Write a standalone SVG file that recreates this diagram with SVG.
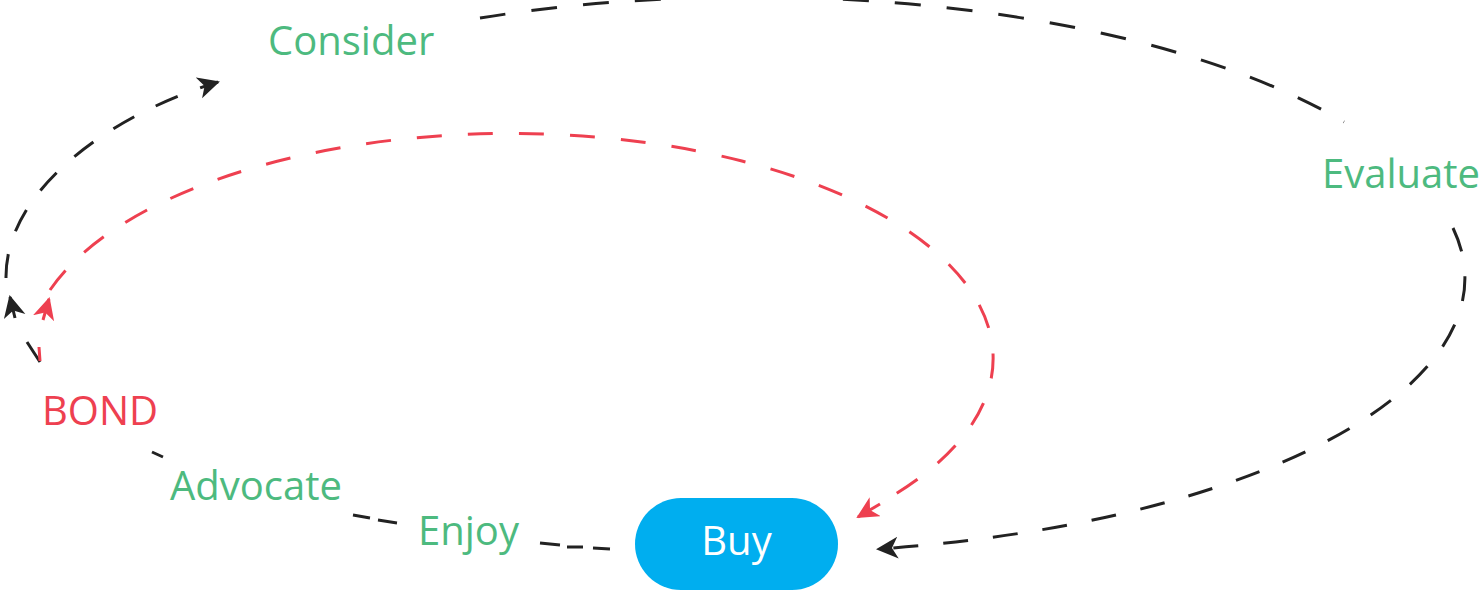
<svg xmlns="http://www.w3.org/2000/svg" width="1480" height="591" viewBox="0 0 1480 591">
  <style>
    .lbl { font-family: "Open Sans", "Noto Sans", "Liberation Sans", sans-serif; font-size: 40px; fill: #4DBA7F; }
    .bond { fill: #EE4050; }
    .buytxt { font-family: "Open Sans", "Noto Sans", "Liberation Sans", sans-serif; font-size: 40px; fill: #ffffff; }
    .blk { fill: none; stroke: #222222; stroke-width: 3; }
    .red { fill: none; stroke: #EE4050; stroke-width: 3; }
  </style>
  <defs>
    <marker id="arrBlack" markerUnits="userSpaceOnUse" markerWidth="24" markerHeight="24" refX="20" refY="11" orient="auto" viewBox="0 0 24 24">
      <path d="M0,0 L22,11 L0,22 L6,11 z" fill="#222222"/>
    </marker>
    <marker id="arrRed" markerUnits="userSpaceOnUse" markerWidth="24" markerHeight="24" refX="20" refY="11" orient="auto" viewBox="0 0 24 24">
      <path d="M0,0 L22,11 L0,22 L6,11 z" fill="#EE4050"/>
    </marker>
  </defs>
  <rect width="1480" height="591" fill="#ffffff"/>

  <g id="connectors">
    <!-- outer black loop: Consider -> Evaluate -> Buy -->
    <path class="blk" stroke-dasharray="26 26" d="M 480 18 A 710 278 0 0 1 1344 122"/>
    <path class="blk" stroke-dasharray="25 25" d="M 1453 228 A 710 275 0 0 1 878 549" marker-end="url(#arrBlack)"/>
    <!-- Buy -> Enjoy -> Advocate -> BOND -->
    <path class="blk" d="M 152 452 L 163 457 M 353 515 L 370 518 M 378 520 L 397 523 M 540 543 L 560 545 M 567 547 L 583 547 M 593 548 L 610 549"/>
    <!-- BOND -> up (black) -->
    <path class="blk" d="M 40 362 L 27 342 M 15 318 L 10 297" marker-end="url(#arrBlack)"/>
    <!-- left arc to Consider -->
    <path class="blk" stroke-dasharray="24 24" d="M 6 278 C 5 190, 110 115, 218 82" marker-end="url(#arrBlack)"/>
    <!-- BOND -> up (red) -->
    <path class="red" d="M 40 361 L 39 347 M 43 320 L 49 299" marker-end="url(#arrRed)"/>
    <!-- red loop back to Buy -->
    <path class="red" stroke-dasharray="25 26" d="M 50 290 A 483 225 0 1 1 882 502"/>
    <path class="red" d="M 880 504 L 858 517" marker-end="url(#arrRed)"/>
  </g>

  <g id="node-consider"><text class="lbl" x="268" y="55">Consider</text></g>
  <g id="node-evaluate"><text class="lbl" x="1322" y="188">Evaluate</text></g>
  <g id="node-bond"><text class="lbl bond" x="42" y="425">BOND</text></g>
  <g id="node-advocate"><text class="lbl" x="170" y="500">Advocate</text></g>
  <g id="node-enjoy"><text class="lbl" x="418" y="545">Enjoy</text></g>
  <g id="node-buy">
    <rect x="635" y="498" width="203" height="92" rx="46" ry="46" fill="#00AEEF"/>
    <text class="buytxt" x="736.5" y="555" text-anchor="middle">Buy</text>
  </g>
</svg>
